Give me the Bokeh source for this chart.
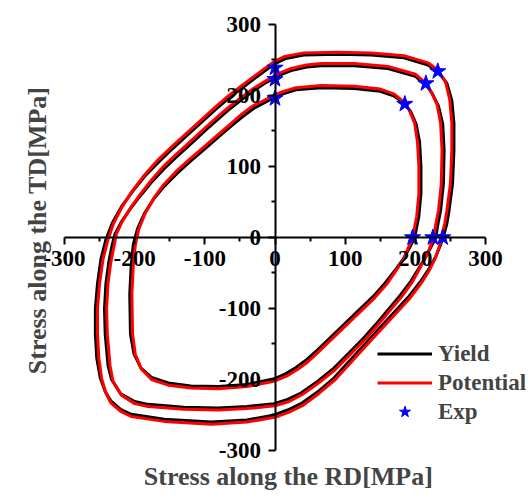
import math
from bokeh.plotting import figure
from bokeh.models import Range1d, Label, Legend, LegendItem, FixedTicker
from bokeh.embed import file_html
from bokeh.resources import INLINE

# ---- data ----
yield_in_x = [199, 205, 208, 208, 206, 201, 193, 183, 170, 150, 113, 66, 30, 10, 0, -15, -30, -45, -60, -80,
              -100, -120, -140, -158, -173, -186, -196, -202, -205, -207, -206, -201, -191, -176, -152, -120, -81, -40, -1, 15,
              30, 45, 60, 80, 100, 120, 140, 157, 172, 183, 193, 199]
yield_in_y = [0, 30, 62, 100, 135, 160, 178, 190, 199, 206, 210, 211, 208, 202, 198, 190, 182, 171, 159, 142,
              125, 108, 90, 72, 54, 34, 12, -10, -40, -80, -136, -164, -184, -197, -205, -209, -210, -207, -199, -192,
              -183, -172, -159, -140, -121, -102, -83, -64, -45, -30, -12, 0]
pot_in_x = [196, 202, 205, 205, 203, 199, 191, 182, 170, 150, 113, 66, 30, 10, 0, -16, -32, -47, -62, -82,
            -102, -122, -142, -159, -173, -185, -194, -199, -202, -204, -203, -199, -190, -176, -152, -120, -81, -40, 0, 17,
            32, 47, 62, 82, 102, 122, 142, 159, 173, 183, 191, 196]
pot_in_y = [0, 30, 62, 100, 135, 161, 180, 192, 202, 209, 213, 214, 211, 205, 201, 193, 185, 174, 161, 144,
            127, 110, 92, 74, 55, 34, 12, -10, -40, -80, -136, -165, -186, -200, -208, -212, -213, -210, -202, -195,
            -186, -175, -161, -142, -123, -104, -85, -66, -46, -31, -12, 0]

yield_mid_x = [229, 232, 236, 240, 241, 239, 233, 224, 215, 200, 161, 113, 66, 45, 23, 10, 0, -15, -30, -48,
               -67, -82, -98, -120, -140, -158, -175, -190, -205, -219, -228, -232, -237, -241, -243, -242, -238, -233, -220, -200,
               -181, -130, -81, -40, -1, 18, 37, 60, 84, 105, 127, 144, 160, 178, 194, 212, 221, 229]
yield_mid_y = [0, 18, 38, 76, 123, 160, 185, 203, 215, 227, 238, 242, 242, 240, 235, 230, 225, 217, 207, 194,
               179, 166, 152, 132, 114, 97, 79, 61, 42, 22, 5, -10, -35, -65, -100, -136, -180, -200, -220, -231,
               -235, -239, -240, -238, -234, -228, -219, -203, -184, -163, -141, -122, -103, -82, -61, -32, -16, 0]
pot_mid_x = [226, 229, 233, 237, 238, 236, 231, 222, 214, 200, 161, 113, 66, 45, 23, 10, 0, -16, -32, -50,
             -69, -84, -100, -122, -142, -160, -176, -191, -205, -218, -226, -229, -234, -238, -240, -239, -235, -231, -219, -200,
             -181, -130, -81, -40, 0, 20, 39, 62, 86, 107, 129, 146, 162, 180, 196, 212, 220, 226]
pot_mid_y = [0, 18, 38, 76, 123, 161, 187, 206, 218, 230, 241, 245, 245, 243, 238, 233, 228, 219, 209, 196,
             181, 168, 154, 134, 116, 99, 81, 62, 43, 22, 5, -10, -35, -65, -100, -136, -181, -202, -222, -234,
             -238, -242, -243, -241, -237, -231, -221, -205, -186, -165, -143, -124, -105, -84, -62, -33, -16, 0]

yield_out_x = [241, 245, 248, 253, 255, 255, 252, 245, 233, 218, 184, 137, 90, 41, 15, 0, -10, -25, -45, -65,
               -85, -105, -125, -145, -165, -185, -203, -219, -232, -241, -248, -253, -256, -256, -254, -249, -242, -234, -220, -205,
               -158, -91, -40, -1, 18, 37, 60, 84, 108, 132, 160, 189, 208, 219, 229, 236, 241]
yield_out_y = [5, 20, 38, 76, 123, 161, 193, 217, 233, 243, 253, 257, 258, 257, 252, 245, 238, 227, 212, 197,
               180, 162, 144, 126, 107, 87, 65, 43, 20, -3, -30, -65, -100, -136, -170, -198, -217, -230, -242, -249,
               -256, -260, -257, -250, -243, -234, -218, -198, -172, -146, -116, -85, -61, -45, -27, -10, 5]
pot_out_x = [238, 242, 245, 250, 252, 252, 249, 243, 232, 218, 184, 137, 90, 41, 14, -1, -12, -27, -47, -67,
             -87, -107, -127, -147, -167, -186, -203, -218, -230, -238, -245, -250, -253, -253, -251, -247, -241, -234, -220, -205,
             -158, -91, -40, 1, 20, 39, 62, 86, 110, 134, 162, 191, 210, 220, 229, 235, 238]
pot_out_y = [5, 20, 38, 76, 123, 161, 194, 219, 236, 246, 256, 260, 261, 260, 255, 248, 240, 229, 214, 199,
             182, 164, 146, 128, 109, 88, 66, 43, 20, -3, -30, -65, -100, -136, -170, -199, -219, -233, -245, -252,
             -259, -263, -260, -253, -246, -237, -220, -200, -174, -148, -118, -87, -62, -46, -28, -10, 5]

exp_x = [196, 225, 239, 0, 0, 0, 185, 215, 232]
exp_y = [0, 0, 0, 196, 223, 239, 188, 217, 234]

axis_ticks = [-300, -200, -100, 0, 100, 200, 300]
axis_minor = [-250, -150, -50, 50, 150, 250]
tick_labels = {t: str(t) for t in axis_ticks}
x_title = "Stress along the RD[MPa]"
y_title = "Stress along the TD[MPa]"

FONT = "Liberation Serif"

p = figure(width=530, height=496, output_backend="svg", toolbar_location=None,
           x_range=Range1d(-391.2, 364.1), y_range=Range1d(-364.8, 333.8),
           min_border=0)
p.grid.visible = False
p.outline_line_color = None
p.background_fill_color = "white"

for ax in (p.xaxis[0], p.yaxis[0]):
    ax.fixed_location = 0
    ax.bounds = (-300, 300)
    ax.ticker = FixedTicker(ticks=axis_ticks, minor_ticks=axis_minor)
    ax.major_label_overrides = tick_labels
    ax.axis_line_width = 2
    ax.axis_line_color = "black"
    ax.major_tick_line_width = 2
    ax.minor_tick_line_width = 2
    ax.major_tick_in = 0
    ax.major_tick_out = 7
    ax.minor_tick_in = 0
    ax.minor_tick_out = 4
    ax.major_label_text_font = FONT
    ax.major_label_text_font_style = "bold"
    ax.major_label_text_font_size = "23px"
    ax.major_label_text_color = "black"
    ax.major_label_standoff = 7

lw = 3
b1 = p.line(yield_in_x, yield_in_y, line_width=lw, line_color="black", line_join="round")
b2 = p.line(yield_mid_x, yield_mid_y, line_width=lw, line_color="black", line_join="round")
b3 = p.line(yield_out_x, yield_out_y, line_width=lw, line_color="black", line_join="round")
r1 = p.line(pot_in_x, pot_in_y, line_width=lw, line_color="red", line_join="round")
r2 = p.line(pot_mid_x, pot_mid_y, line_width=lw, line_color="red", line_join="round")
r3 = p.line(pot_out_x, pot_out_y, line_width=lw, line_color="red", line_join="round")
st = p.scatter(exp_x, exp_y, marker="star", size=17, fill_color="blue", line_color="blue")

legend = Legend(items=[LegendItem(label="Yield", renderers=[b1]),
                       LegendItem(label="Potential", renderers=[r1]),
                       LegendItem(label="Exp", renderers=[st])],
                location=(377, 70))
legend.background_fill_alpha = 0
legend.border_line_alpha = 0
legend.padding = 0
legend.margin = 0
legend.spacing = 0
legend.glyph_width = 55
legend.glyph_height = 29
legend.label_height = 29
legend.label_standoff = 6
legend.label_text_font = FONT
legend.label_text_font_style = "bold"
legend.label_text_font_size = "23px"
p.add_layout(legend)

p.add_layout(Label(x=19, y=-337, text=x_title, text_align="center", text_baseline="middle",
                   text_font=FONT, text_font_style="bold", text_font_size="26px"))
p.add_layout(Label(x=-339, y=10, text=y_title, angle=math.pi / 2, text_align="center",
                   text_baseline="middle", text_font=FONT, text_font_style="bold",
                   text_font_size="26px"))

open("out.html", "w").write(file_html(p, INLINE))
